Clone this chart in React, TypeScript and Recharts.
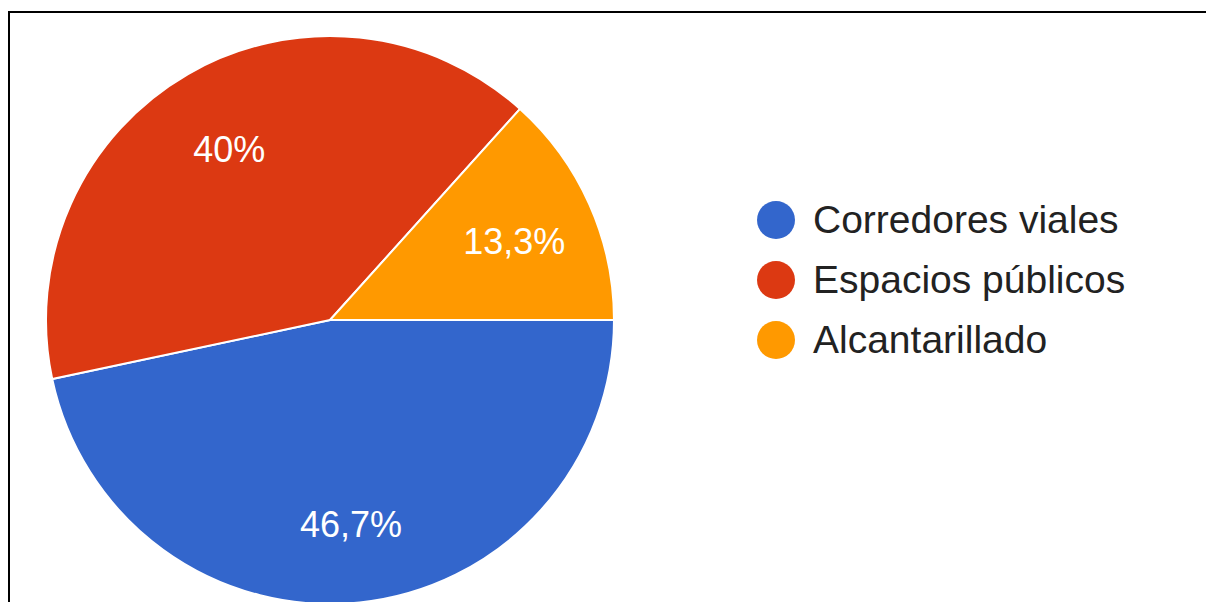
import { PieChart, Pie, Cell, Legend } from "recharts"

const categories = ["Corredores viales", "Espacios públicos", "Alcantarillado"]
const responses = [7, 6, 2]
const colors = ["#3366cc", "#dc3912", "#ff9900"]

const data = categories.map((name, i) => ({ name, value: responses[i], color: colors[i] }))

const RADIAN = Math.PI / 180
const FONT = "Arial, 'Liberation Sans', sans-serif"

function formatPercent(percent: number) {
  const txt = (percent * 100).toFixed(1).replace(/\.0$/, "")
  return `${txt.replace(".", ",")}%`
}

// slice labels sit inside each slice, a bit past the middle of the radius
function renderLabel(props: any) {
  const { cx, cy, midAngle, outerRadius, percent } = props
  const r = outerRadius * 0.71
  const x = cx + r * Math.cos(-midAngle * RADIAN)
  const y = cy + r * Math.sin(-midAngle * RADIAN) + 4
  return (
    <text
      x={x}
      y={y}
      fill="#ffffff"
      textAnchor="middle"
      dominantBaseline="central"
      fontSize={36}
      fontFamily={FONT}
    >
      {formatPercent(percent)}
    </text>
  )
}

// legend keeps the data order (Recharts would sort it by name)
function renderLegend() {
  return (
    <div style={{ fontFamily: FONT }}>
      {data.map((entry, index) => (
        <div key={`legend-${index}`} style={{ display: "flex", alignItems: "center", height: 60 }}>
          <span
            style={{
              display: "inline-block",
              width: 38,
              height: 38,
              borderRadius: "50%",
              background: entry.color,
              marginRight: 18,
            }}
          />
          <span style={{ fontSize: 39, color: "#222222" }}>{entry.name}</span>
        </div>
      ))}
    </div>
  )
}

export default function App() {
  return (
    <div style={{ position: "absolute", left: 0, top: 0, width: 1206, height: 602, background: "#ffffff", overflow: "hidden" }}>
      <div
        style={{
          position: "absolute",
          left: 8,
          top: 11,
          width: 1210,
          height: 600,
          borderLeft: "2.5px solid #000",
          borderTop: "2.5px solid #000",
        }}
      />
      <div style={{ position: "absolute", left: 0, top: 0 }}>
        <PieChart width={1206} height={602} margin={{ top: 0, right: 0, bottom: 0, left: 0 }}>
          <Pie
            data={data}
            dataKey="value"
            nameKey="name"
            cx={330}
            cy={320}
            outerRadius={284}
            startAngle={0}
            endAngle={-360}
            stroke="#ffffff"
            strokeWidth={2}
            labelLine={false}
            label={renderLabel}
            isAnimationActive={false}
          >
            {data.map((entry, index) => (
              <Cell key={`cell-${index}`} fill={entry.color} />
            ))}
          </Pie>
          <Legend
            content={renderLegend}
            layout="vertical"
            wrapperStyle={{ position: "absolute", left: 757, top: 190, width: 440 }}
          />
        </PieChart>
      </div>
    </div>
  )
}
